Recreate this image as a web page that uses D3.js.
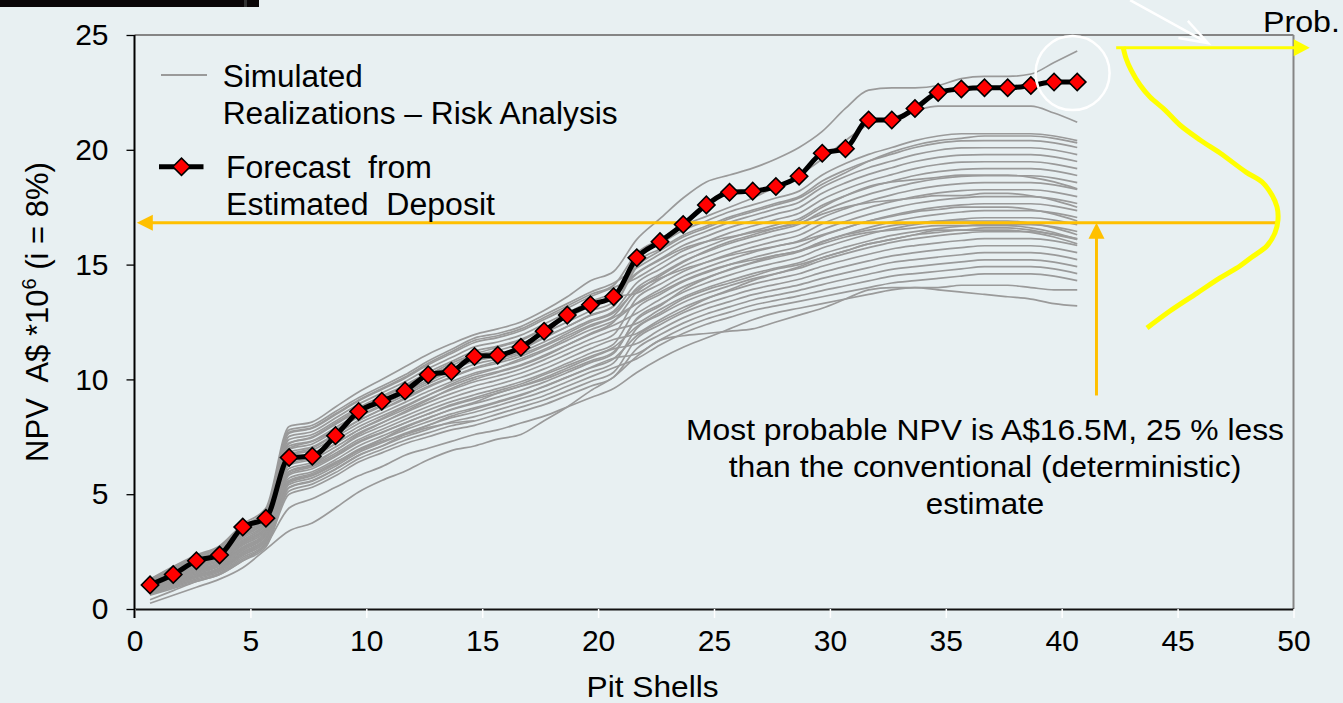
<!DOCTYPE html>
<html><head><meta charset="utf-8">
<script src="https://cdn.jsdelivr.net/npm/d3@7"></script>
<style>
html,body{margin:0;padding:0;background:#e8f0f2;overflow:hidden;}
svg{display:block;font-family:"Liberation Sans",Arial,sans-serif;}
text{white-space:pre;}
</style></head><body>
<svg id="chart" width="1343" height="703"></svg>
<script>
// ---------- DATA ----------
const pitShells = [1,2,3,4,5,6,7,8,9,10,11,12,13,14,15,16,17,18,19,20,21,22,23,24,25,26,27,28,29,30,31,32,33,34,35,36,37,38,39,40,41];
const forecastNPV = [1.05,1.5,2.1,2.35,3.57,3.95,6.6,6.65,7.55,8.6,9.05,9.5,10.2,10.35,11.0,11.05,11.4,12.1,12.8,13.25,13.6,15.3,16.0,16.75,17.6,18.15,18.2,18.4,18.85,19.85,20.05,21.3,21.3,21.8,22.5,22.65,22.7,22.7,22.8,22.95,22.95];
const simulatedNPV = [
 [1.30,1.85,2.35,2.75,3.70,4.40, 7.95,8.15,8.80,9.45,10.0,10.55,11.1,11.55,11.95,12.2,12.5,13.0,13.6,14.3,14.7, 16.1,17.0,17.9,18.6,18.9,19.2,19.6,20.1,20.8,21.8,22.6,22.7,22.7,22.8,23.1,23.2,23.2,23.3,23.8,24.3],
 [1.25,1.75,2.28,2.68,3.55,4.25, 7.7,7.9,8.5,9.1,9.6,10.1,10.7,11.2,11.7,11.9,12.2,12.7,13.2,13.7,14.1, 15.5,16.1,16.7,17.1,17.5,17.9,18.4,18.9,19.6,20.4,21.1,21.4,21.7,21.9,21.9,21.9,21.9,21.9,21.6,21.2],
 [1.30,1.80,2.30,2.70,3.60,4.30, 7.66,7.87,8.46,9.06,9.56,10.05,10.64,11.13,11.61,11.82,12.12,12.61,13.1,13.6,14.0, 14.42,15.02,15.6,16.0,16.38,16.68,16.96,17.24,17.84,18.28,18.64,18.92,19.18,19.36,19.46,19.48,19.48,19.48,19.38,19.18],
 [1.27,1.76,2.25,2.64,3.53,4.22, 7.8,8.0,8.6,9.2,9.7,10.2,10.8,11.3,11.8,12.0,12.3,12.8,13.3,13.8,14.2, 14.86,15.46,16.05,16.45,16.84,17.14,17.43,17.72,18.37,18.84,19.22,19.51,19.79,19.98,20.08,20.09,20.09,20.09,19.99,19.79],
 [1.23,1.71,2.19,2.58,3.45,4.14, 7.24,7.46,8.04,8.64,9.12,9.6,10.14,10.6,11.04,11.26,11.56,12.02,12.5,12.98,13.38, 15.3,15.9,16.5,16.9,17.3,17.6,17.9,18.2,18.9,19.4,19.8,20.1,20.4,20.6,20.7,20.7,20.7,20.7,20.6,20.4],
 [1.20,1.67,2.14,2.52,3.38,4.06, 7.38,7.6,8.18,8.78,9.27,9.75,10.31,10.78,11.23,11.45,11.75,12.22,12.7,13.19,13.59, 13.76,14.36,14.93,15.33,15.69,15.99,16.26,16.52,17.05,17.44,17.77,18.04,18.27,18.43,18.53,18.57,18.57,18.57,18.47,18.27],
 [1.16,1.62,2.08,2.46,3.30,3.98, 6.96,7.19,7.76,8.36,8.83,9.3,9.81,10.25,10.66,10.89,11.19,11.63,12.1,12.57,12.97, 14.2,14.8,15.38,15.78,16.15,16.45,16.73,17.0,17.58,18.0,18.35,18.63,18.88,19.05,19.15,19.18,19.18,19.18,19.08,18.88],
 [1.13,1.58,2.03,2.40,3.23,3.90, 7.52,7.73,8.32,8.92,9.41,9.9,10.47,10.95,11.42,11.63,11.93,12.41,12.9,13.39,13.79, 14.64,15.24,15.83,16.23,16.61,16.91,17.2,17.48,18.11,18.56,18.93,19.22,19.49,19.67,19.77,19.79,19.79,19.79,19.69,19.49],
 [1.09,1.53,1.97,2.34,3.15,3.82, 6.68,6.92,7.48,8.08,8.54,9.0,9.48,9.9,10.28,10.52,10.82,11.24,11.7,12.16,12.56, 13.32,13.92,14.48,14.88,15.23,15.53,15.79,16.04,16.52,16.88,17.19,17.45,17.66,17.81,17.91,17.96,17.96,17.96,17.86,17.66],
 [1.06,1.49,1.92,2.28,3.08,3.74, 7.1,7.33,7.9,8.5,8.98,9.45,9.98,10.43,10.85,11.08,11.38,11.83,12.3,12.78,13.18, 15.08,15.68,16.28,16.68,17.07,17.37,17.67,17.96,18.64,19.12,19.51,19.81,20.1,20.29,20.39,20.4,20.4,20.4,20.3,20.1],
 [1.02,1.44,1.86,2.22,3.00,3.66, 6.54,6.79,7.34,7.94,8.4,8.85,9.32,9.73,10.09,10.34,10.64,11.05,11.5,11.96,12.36, 12.88,13.48,14.03,14.43,14.77,15.07,15.32,15.56,15.99,16.32,16.61,16.86,17.05,17.19,17.29,17.35,17.35,17.35,17.25,17.05],
 [0.99,1.40,1.81,2.16,2.93,3.58, 6.82,7.06,7.62,8.22,8.69,9.15,9.65,10.08,10.47,10.71,11.01,11.44,11.9,12.37,12.77, 13.98,14.58,15.15,15.55,15.92,16.22,16.49,16.76,17.31,17.72,18.06,18.33,18.57,18.74,18.84,18.87,18.87,18.87,18.77,18.57],
 [0.95,1.35,1.75,2.10,2.85,3.50, 6.26,6.52,7.06,7.66,8.11,8.55,8.99,9.38,9.71,9.97,10.27,10.66,11.1,11.55,11.95, 13.54,14.14,14.7,15.1,15.46,15.76,16.02,16.28,16.78,17.16,17.48,17.74,17.96,18.12,18.22,18.26,18.26,18.26,18.16,17.96],
 [0.92,1.31,1.70,2.04,2.78,3.42, 6.4,6.65,7.2,7.8,8.25,8.7,9.15,9.55,9.9,10.15,10.45,10.85,11.3,11.75,12.15, 12.44,13.04,13.58,13.98,14.31,14.61,14.85,15.08,15.46,15.76,16.03,16.27,16.44,16.57,16.67,16.74,16.74,16.74,16.64,16.44],
 [0.88,1.26,1.64,1.98,2.70,3.34, 5.98,6.25,6.78,7.38,7.82,8.25,8.66,9.03,9.33,9.6,9.9,10.27,10.7,11.14,11.54, 13.1,13.7,14.25,14.65,15.0,15.3,15.55,15.8,16.25,16.6,16.9,17.15,17.35,17.5,17.6,17.65,17.65,17.65,17.55,17.35],
 [0.85,1.22,1.59,1.92,2.63,3.26, 6.12,6.38,6.92,7.52,7.96,8.4,8.82,9.2,9.52,9.78,10.08,10.46,10.9,11.34,11.74, 12.0,12.6,13.13,13.53,13.85,14.15,14.38,14.6,14.93,15.2,15.45,15.68,15.83,15.95,16.05,16.13,16.13,16.13,16.03,15.83],
 [0.81,1.17,1.53,1.86,2.55,3.18, 5.7,5.98,6.5,7.1,7.53,7.95,8.33,8.68,8.95,9.23,9.53,9.88,10.3,10.73,11.13, 12.66,13.26,13.8,14.2,14.54,14.84,15.08,15.32,15.72,16.04,16.32,16.56,16.74,16.88,16.98,17.04,17.04,17.04,16.94,16.74],
 [0.78,1.13,1.48,1.80,2.48,3.10, 5.84,6.11,6.64,7.24,7.67,8.1,8.49,8.85,9.14,9.41,9.71,10.07,10.5,10.93,11.33, 11.56,12.16,12.68,13.08,13.39,13.69,13.91,14.12,14.4,14.64,14.87,15.09,15.22,15.33,15.43,15.52,15.52,15.52,15.42,15.22],
 [0.74,1.08,1.42,1.74,2.40,3.02, 5.42,5.71,6.22,6.82,7.24,7.65,8.0,8.33,8.57,8.86,9.16,9.49,9.9,10.32,10.72, 12.22,12.82,13.35,13.75,14.08,14.38,14.61,14.84,15.19,15.48,15.74,15.97,16.13,16.26,16.36,16.43,16.43,16.43,16.33,16.13],
 [0.71,1.04,1.37,1.68,2.33,2.94, 5.56,5.84,6.36,6.96,7.38,7.8,8.16,8.5,8.76,9.04,9.34,9.68,10.1,10.52,10.92, 11.12,11.72,12.23,12.63,12.93,13.23,13.44,13.64,13.87,14.08,14.29,14.5,14.61,14.71,14.81,14.91,14.91,14.91,14.81,14.61],
 [0.67,0.99,1.31,1.62,2.25,2.86, 5.14,5.44,5.94,6.54,6.95,7.35,7.67,7.98,8.19,8.49,8.79,9.1,9.5,9.91,10.31, 11.78,12.38,12.9,13.3,13.62,13.92,14.14,14.36,14.66,14.92,15.16,15.38,15.52,15.64,15.74,15.82,15.82,15.82,15.72,15.52],
 [0.64,0.95,1.26,1.56,2.18,2.78, 5.28,5.57,6.08,6.68,7.09,7.5,7.83,8.15,8.38,8.67,8.97,9.29,9.7,10.11,10.51, 10.9,11.5,12.0,12.4,12.7,13.0,13.2,13.4,13.6,13.8,14.0,14.2,14.3,14.4,14.5,14.6,14.6,14.6,14.5,14.3],
 [0.60,0.90,1.20,1.50,2.10,2.70, 5.0,5.3,5.8,6.4,6.8,7.2,7.5,7.8,8.0,8.3,8.6,8.9,9.3,9.7,10.1, 11.34,11.94,12.45,12.85,13.16,13.46,13.67,13.88,14.13,14.36,14.58,14.79,14.91,15.02,15.12,15.21,15.21,15.21,15.11,14.91],
 [1.15,1.6,2.1,2.5,3.3,4.0, 7.2,7.5,8.1,8.7,9.2,9.7,10.2,10.7,11.1,11.4,11.7,12.2,12.7,13.2,13.6, 14.6,15.2,15.7,16.0,16.2,16.4,16.6,16.8,17.2,17.5,17.7,17.8,17.9,18.0,18.0,18.1,18.1,18.0,17.8,17.5],
 [0.9,1.3,1.7,2.0,2.8,3.4, 6.0,6.3,6.9,7.6,8.1,8.6,9.1,9.6,10.0,10.3,10.6,11.0,11.5,12.0,12.5, 13.8,14.5,15.1,15.6,16.0,16.3,16.6,16.9,17.5,18.0,18.4,18.6,18.7,18.8,18.9,18.9,18.9,18.8,18.6,18.3],
 [0.75,1.1,1.45,1.75,2.45,3.05, 5.5,5.8,6.3,6.9,7.4,7.9,8.3,8.7,9.0,9.4,9.7,10.0,10.4,10.8,11.2, 12.6,13.2,13.9,14.4,14.8,15.1,15.4,15.6,16.0,16.3,16.5,16.7,16.8,16.9,16.9,16.9,16.9,16.8,16.6,16.3],
 [1.0,1.45,1.9,2.25,3.0,3.7, 6.7,7.0,7.6,8.2,8.7,9.2,9.7,10.1,10.5,10.8,11.1,11.5,12.0,12.5,12.9, 13.9,14.4,14.8,15.1,15.4,15.6,15.8,16.0,16.3,16.6,16.9,17.1,17.3,17.4,17.5,17.5,17.5,17.4,17.2,16.9],
 [0.85,1.25,1.6,1.95,2.65,3.3, 5.9,6.2,6.7,7.3,7.7,8.1,8.5,8.9,9.2,9.5,9.8,10.2,10.6,11.0,11.4, 12.3,12.9,13.5,13.9,14.2,14.5,14.8,15.0,15.3,15.6,15.9,16.1,16.3,16.5,16.5,16.6,16.6,16.5,16.3,16.1],
 [1.1,1.55,2.0,2.4,3.2,3.85, 7.0,7.3,7.8,8.4,8.9,9.4,9.9,10.4,10.8,11.0,11.3,11.8,12.3,12.8,13.2, 14.9,15.6,16.2,16.6,17.0,17.3,17.6,17.9,18.5,19.0,19.5,19.9,20.2,20.4,20.5,20.6,20.6,20.6,20.5,20.3],
 [0.7,1.05,1.4,1.7,2.35,2.95, 5.3,5.6,6.1,6.7,7.1,7.6,8.0,8.4,8.7,9.0,9.3,9.7,10.1,10.5,10.9, 11.9,12.5,13.0,13.5,13.9,14.3,14.6,14.9,15.3,15.6,15.9,16.1,16.3,16.4,16.5,16.5,16.5,16.4,16.2,15.9],
 [0.95,1.35,1.8,2.15,2.9,3.55, 6.3,6.6,7.2,7.8,8.3,8.8,9.3,9.8,10.2,10.5,10.9,11.3,11.8,12.3,12.7, 13.3,13.8,14.3,14.7,15.0,15.2,15.4,15.6,15.9,16.2,16.4,16.5,16.6,16.7,16.7,16.7,16.7,16.6,16.4,16.1],
 [0.4,0.8,1.2,1.5,2.1,2.8, 4.4,4.8,5.3,5.8,6.2,6.7,7.0,7.3,7.6,7.8,8.1,8.4,8.8,9.2,9.6, 10.3,10.9,11.4,11.8,12.2,12.6,12.9,13.1,13.3,13.5,13.7,13.9,14.0,14.0,14.1,14.1,14.1,14.0,13.9,13.9],
 [0.25,0.6,0.95,1.3,1.8,2.6, 3.4,3.75,4.4,5.1,5.6,6.0,6.5,6.9,7.1,7.4,7.6,8.2,8.8,9.5,10.1, 11.0,11.7,11.9,12.0,12.1,12.2,12.5,12.8,13.1,13.5,13.9,14.0,14.0,13.9,13.8,13.7,13.6,13.5,13.3,13.2],
 [0.8,1.2,1.6,1.9,2.6,3.2, 5.6,5.9,6.4,6.9,7.3,7.6,7.9,8.1,8.2]
];
const xTicks = [0,5,10,15,20,25,30,35,40,45,50];
const yTicks = [0,5,10,15,20,25];
// probability curve (Prob. drawn along the shell axis, NPV on the value axis)
const probNPV     = [24.48,24.0,23.48,22.82,22.30,21.73,21.08,20.43,19.86,19.03,18.60,18.03,17.51,16.94,16.38,15.81,15.33,14.94,14.42,13.76,12.98,12.24];
const probDensity = [42.65,42.77,42.99,43.38,43.81,44.46,45.10,45.97,46.83,47.95,48.64,49.07,49.29,49.33,49.20,48.85,48.21,47.69,46.83,45.84,44.67,43.68];
const mostProbableNPV = 16.82;
const annotationLines = ["Most probable NPV is A$16.5M, 25 % less","than the conventional (deterministic)","estimate"];

// ---------- LAYOUT ----------
const svg = d3.select("#chart");
const x = d3.scaleLinear([0,50],[134.5,1293.5]);
const y = d3.scaleLinear([0,25],[609,35]);
const markerShift = 0.33;
const px = i => x(pitShells[i] - markerShift);

svg.append("rect").attr("width",1343).attr("height",703).attr("fill","#e8f0f2");
// dark strip at the top-left (cropped slide header)
svg.append("rect").attr("x",0).attr("y",0).attr("width",259).attr("height",7).attr("fill","#0a0608");
svg.append("rect").attr("x",244).attr("y",0).attr("width",3).attr("height",7).attr("fill","#333");

// frame
svg.append("line").attr("x1",x(0)).attr("x2",x(50)).attr("y1",y(25)).attr("y2",y(25)).attr("stroke","#858585").attr("stroke-width",2);
svg.append("line").attr("x1",x(50)).attr("x2",x(50)).attr("y1",y(25)).attr("y2",y(0)).attr("stroke","#858585").attr("stroke-width",2);

// simulated realizations
const simLine = d3.line().defined(d=>d!=null).x((d,i)=>px(i)).y(d=>y(d)).curve(d3.curveMonotoneX);
svg.append("g").selectAll("path").data(simulatedNPV).join("path")
  .attr("d",simLine).attr("fill","none").attr("stroke","#9a9a9a").attr("stroke-width",1.7);

// axes
const yAxis = d3.axisLeft(y).tickValues(yTicks).tickSize(8).tickSizeOuter(0).tickPadding(18);
const gy = svg.append("g").attr("transform",`translate(${x(0)},0)`).call(yAxis);
gy.select(".domain").remove();
gy.selectAll("line").attr("stroke","#000").attr("stroke-width",1.3);
gy.selectAll("text").attr("font-size",30).attr("fill","#000").attr("font-family","Liberation Sans, Arial, sans-serif");

const xAxis = d3.axisBottom(x).tickValues(xTicks).tickSize(9).tickSizeOuter(0).tickPadding(12);
const gx = svg.append("g").attr("transform",`translate(0,${y(0)})`).call(xAxis);
gx.select(".domain").attr("stroke","#111").attr("stroke-width",2);
gx.selectAll("line").attr("stroke","#ffffff").attr("stroke-width",1.5);
gx.selectAll("text").attr("font-size",30).attr("fill","#000").attr("font-family","Liberation Sans, Arial, sans-serif");
svg.append("line").attr("x1",x(0)).attr("x2",x(0)).attr("y1",y(25)).attr("y2",y(0)+9).attr("stroke","#000").attr("stroke-width",2);

// axis titles
svg.append("text").attr("x",652.6).attr("y",697).attr("text-anchor","middle").attr("font-size",29)
  .attr("textLength",132).attr("lengthAdjust","spacingAndGlyphs").text("Pit Shells");
const yt = svg.append("text").attr("transform","translate(48,312) rotate(-90)").attr("text-anchor","middle").attr("font-size",31);
yt.append("tspan").text("NPV  A$ *10");
yt.append("tspan").attr("font-size",20).attr("dy",-12).text("6");
yt.append("tspan").attr("dy",12).text(" (i = 8%)");

// orange horizontal arrow at the most probable NPV
const orange = "#ffc000", yellow = "#ffff00";
const yMP = y(mostProbableNPV);
svg.append("line").attr("x1",x(49.33)).attr("x2",x(0.1)+14).attr("y1",yMP).attr("y2",yMP).attr("stroke",orange).attr("stroke-width",3);
svg.append("path").attr("d",`M${x(0.1)},${yMP} l16,-8 l0,16 z`).attr("fill",orange);
// vertical orange arrow
const xv = x(41.5);
svg.append("line").attr("x1",xv).attr("x2",xv).attr("y1",y(9.3)).attr("y2",yMP+14).attr("stroke",orange).attr("stroke-width",3);
svg.append("path").attr("d",`M${xv},${yMP} l-8,16 l16,0 z`).attr("fill",orange);

// probability curve + Prob. axis arrow
svg.append("path").datum(probNPV).attr("fill","none").attr("stroke",yellow).attr("stroke-width",5)
  .attr("d",d3.line().x((d,i)=>x(probDensity[i])).y(d=>y(d)).curve(d3.curveCatmullRom)(probNPV));
const yP = y(24.45);
svg.append("line").attr("x1",x(42.35)).attr("x2",x(50.7)-14).attr("y1",yP).attr("y2",yP).attr("stroke",yellow).attr("stroke-width",3);
svg.append("path").attr("d",`M${x(50.7)},${yP} l-16,-8.5 l0,17 z`).attr("fill",yellow);
svg.append("text").attr("x",1263).attr("y",32).attr("font-size",30).attr("textLength",77).attr("lengthAdjust","spacingAndGlyphs").text("Prob.");

// white arrow from above
const wa = [x(42.95),y(26.52)], wb = [x(46.31),y(24.65)];
const ang = Math.atan2(wb[1]-wa[1], wb[0]-wa[0]);
const hl = 30, ha = 19*Math.PI/180;
svg.append("path").attr("fill","none").attr("stroke","#fff").attr("stroke-width",2.5)
  .attr("d",`M${wa[0]},${wa[1]} L${wb[0]},${wb[1]} M${wb[0]-hl*Math.cos(ang-ha)},${wb[1]-hl*Math.sin(ang-ha)} L${wb[0]},${wb[1]} L${wb[0]-hl*Math.cos(ang+ha)},${wb[1]-hl*Math.sin(ang+ha)}`);

// forecast line
const fLine = d3.line().x((d,i)=>px(i)).y(d=>y(d)).curve(d3.curveMonotoneX);
svg.append("path").datum(forecastNPV).attr("d",fLine).attr("fill","none").attr("stroke","#000").attr("stroke-width",5).attr("stroke-linejoin","round");
const diamond = d3.symbol().type(d3.symbolSquare).size(150);
svg.append("g").selectAll("path").data(forecastNPV).join("path")
  .attr("d",diamond).attr("transform",(d,i)=>`translate(${px(i)},${y(d)}) rotate(45)`)
  .attr("fill","#ff0000").attr("stroke","#000").attr("stroke-width",1.6);

// white circle around the last shells
svg.append("circle").attr("cx",x(40.47)).attr("cy",y(23.34)).attr("r",37).attr("fill","none").attr("stroke","#fff").attr("stroke-width",2.5);

// legend
svg.append("line").attr("x1",161).attr("x2",207).attr("y1",75).attr("y2",75).attr("stroke","#9a9a9a").attr("stroke-width",2);
svg.append("text").attr("x",222.7).attr("y",87).attr("font-size",31).attr("textLength",140).attr("lengthAdjust","spacingAndGlyphs").text("Simulated");
svg.append("text").attr("x",222.7).attr("y",124).attr("font-size",31).attr("textLength",395).attr("lengthAdjust","spacingAndGlyphs").text("Realizations – Risk Analysis");
svg.append("line").attr("x1",159).attr("x2",203.5).attr("y1",166.7).attr("y2",166.7).attr("stroke","#000").attr("stroke-width",5);
svg.append("path").attr("d",diamond).attr("transform","translate(181.5,166.7) rotate(45)").attr("fill","#ff0000").attr("stroke","#000").attr("stroke-width",1.6);
svg.append("text").attr("x",226).attr("y",178).attr("font-size",31).attr("textLength",206).attr("lengthAdjust","spacingAndGlyphs").text("Forecast  from");
svg.append("text").attr("x",226).attr("y",215).attr("font-size",31).attr("textLength",269).attr("lengthAdjust","spacingAndGlyphs").text("Estimated  Deposit");

// annotation
const annW = [598,512.6,118.5], annY = [440,477,514];
svg.append("g").selectAll("text").data(annotationLines).join("text")
  .attr("x",985).attr("y",(d,i)=>annY[i]).attr("text-anchor","middle").attr("font-size",30)
  .attr("textLength",(d,i)=>annW[i]).attr("lengthAdjust","spacingAndGlyphs").text(d=>d);
</script>
</body></html>
